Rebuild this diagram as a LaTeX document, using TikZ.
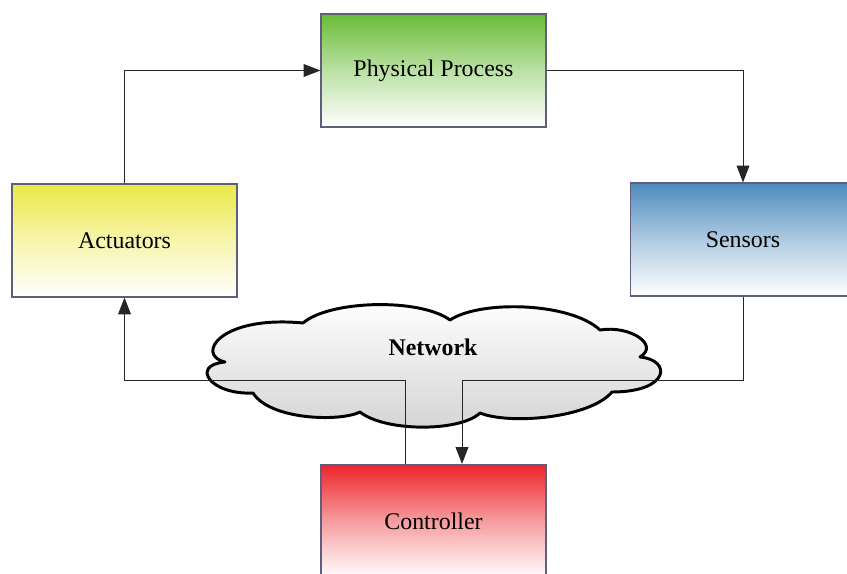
\documentclass[tikz,border=0pt]{standalone}
\usepackage{fontspec}
\setmainfont{Liberation Serif}
\usepackage{tikz}
\usetikzlibrary{arrows.meta}

\definecolor{procgreen}{RGB}{105,188,55}
\definecolor{actyellow}{RGB}{236,232,70}
\definecolor{sensblue}{RGB}{78,138,190}
\definecolor{ctrlred}{RGB}{236,36,42}
\definecolor{boxline}{RGB}{95,95,125}

\begin{document}
\begin{tikzpicture}[x=0.025cm, y=-0.025cm,
  block/.style={draw=boxline, line width=0.8pt, rectangle, inner sep=0pt,
    minimum width=5.625cm, minimum height=2.825cm,
    font=\fontsize{17}{20}\selectfont, bottom color=white},
  cloudline/.style={draw=black, line width=2.1pt, line join=round,
    top color=white, bottom color=black!17},
  link/.style={draw=black!85, line width=0.7pt},
  arr/.style={link, -{Triangle[length=4.2mm,width=3.2mm]}}]
\clip (0,0) rectangle (847,573);

% blocks of the loop
\node[block, top color=procgreen, middle color=procgreen!45] (phys) at (433.5,70.5) {Physical Process};
\node[block, top color=actyellow, middle color=actyellow!45] (act) at (124.5,240.5) {Actuators};
\node[block, top color=sensblue, middle color=sensblue!45] (sens) at (743,239.5) {Sensors};
\node[block, top color=ctrlred, middle color=ctrlred!45] (ctrl) at (433.5,521) {Controller};

% the network cloud
\path[cloudline] (225,362) .. controls (195,355) and (220,315) .. (303,323)
  .. controls (330,300) and (420,298) .. (450,320)
  .. controls (480,300) and (570,302) .. (600,330)
  .. controls (630,325) and (660,345) .. (640,357)
  .. controls (672,360) and (670,392) .. (612,392)
  .. controls (590,418) and (510,425) .. (480,413)
  .. controls (460,432) and (385,432) .. (360,412)
  .. controls (340,422) and (270,420) .. (253,393)
  .. controls (210,395) and (190,365) .. cycle;
\node[font=\fontsize{17}{20}\selectfont\bfseries] (net) at (433,347) {Network};

\coordinate (sj) at (462,380);
\coordinate (cj) at (405,380);

\draw[arr] (act.north) |- (phys.west);
\draw[arr] (phys.east) -| (sens.north);
\draw[arr] (sens.south) |- (sj) -- (ctrl.north -| sj);
\draw[arr] (ctrl.north -| cj) -- (cj) -| (act.south);
\end{tikzpicture}
\end{document}
